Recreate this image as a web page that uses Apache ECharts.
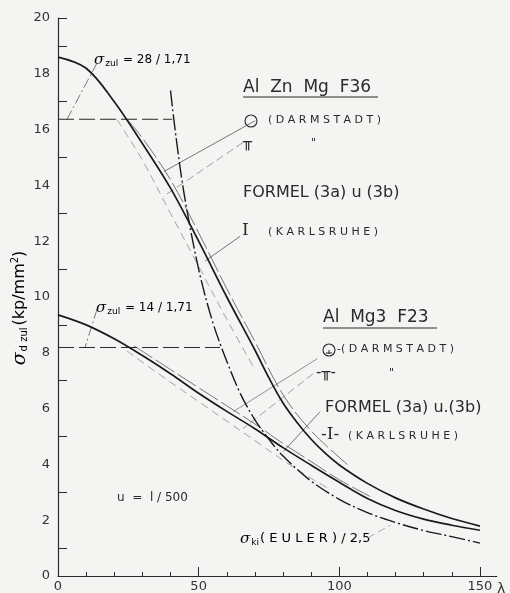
<!DOCTYPE html>
<html><head><meta charset="utf-8">
<script src="https://cdn.jsdelivr.net/npm/echarts@6/dist/echarts.min.js"></script>
<style>html,body{margin:0;padding:0;background:#f4f4f2}#c{width:510px;height:593px}</style>
</head><body><div id="c"></div>
<script>
// ---- data ----
const xTickLabels = [0, 50, 100, 150];
const xMinorTicks = [10, 20, 30, 40, 60, 70, 80, 90, 110, 120, 130, 140];
const yTickLabels = [0, 2, 4, 6, 8, 10, 12, 14, 16, 18, 20];
const yTicks = [1, 3, 5, 7, 9, 11, 13, 15, 17, 19, 20];

// Al Zn Mg F36
const znLambda = [0, 10, 20, 30, 40, 50, 60, 70, 75, 80, 85, 90, 95, 100, 110, 120, 130, 140, 150];
const znFormel = [18.6, 18.2, 17.0, 15.5, 13.9, 12.0, 10.0, 8.1, 7.1, 6.2, 5.5, 4.9, 4.4, 3.98, 3.32, 2.8, 2.4, 2.06, 1.79];
const znDarmCircleLambda = [24.6, 30, 40, 50, 60, 70, 80, 90, 104];
const znDarmCircle = [16.36, 15.7, 14.2, 12.3, 10.3, 8.4, 6.5, 5.2, 3.9];
const znDarmTLambda = [21, 30, 40, 50, 60, 70];
const znDarmT = [16.36, 14.9, 13.0, 11.1, 9.2, 7.4];
const znSigmaZul = 16.37;   // 28/1,71
const znZulEnd = 40.6;

// Al Mg3 F23
const mgLambda = [0, 10, 20, 30, 40, 50, 60, 70, 80, 90, 100, 110, 120, 130, 140, 150];
const mgFormel = [9.36, 9.0, 8.5, 7.9, 7.25, 6.55, 5.9, 5.28, 4.6, 3.97, 3.36, 2.78, 2.35, 2.04, 1.82, 1.64];
const mgDarmCircleLambda = [27, 40, 50, 60, 70, 80, 90, 100, 111];
const mgDarmCircle = [8.25, 7.4, 6.75, 6.1, 5.45, 4.75, 4.1, 3.45, 2.85];
const mgDarmTLambda = [24.5, 35, 50, 60, 70, 80, 90, 96];
const mgDarmT = [8.07, 7.3, 6.25, 5.55, 4.85, 4.15, 3.5, 3.15];
const mgSigmaZul = 8.19;    // 14/1,71
const mgZulEnd = 57.6;

// Euler / 2,5
const eulerLambda = [40, 42, 45, 50, 55, 60, 65, 70, 75, 80, 90, 100, 110, 120, 130, 140, 150];
const eulerSigma = [17.4, 15.7, 13.6, 11.0, 9.1, 7.7, 6.5, 5.6, 4.9, 4.3, 3.4, 2.75, 2.27, 1.92, 1.63, 1.41, 1.18];

// leader lines (data coordinates)
const leaderZul28 = [[13.9, 18.39], [3.2, 16.37]];
const leaderZul14 = [[13.9, 9.57], [9.6, 8.19]];
const leaderZnCircle = [[70.1, 16.32], [37.7, 14.5]];
const leaderZnT = [[65.8, 15.54], [37.4, 13.6]];
const leaderZnI = [[64.8, 12.18], [52.3, 11.29]];
const leaderMgCircle = [[92.2, 7.79], [62.3, 5.89]];
const leaderMgT = [[90.7, 7.25], [65.8, 5.29]];
const leaderMgI = [[93.2, 5.89], [80.1, 4.46]];
const leaderEuler = [[110, 1.36], [118.1, 1.82]];

const zip = (a, b) => a.map((v, i) => [v, b[i]]);
const INK = '#2a2a2a';
const FONT = 'DejaVu Sans';

const chart = echarts.init(document.getElementById('c'), null, {renderer: 'canvas'});

function curve(data, color, width, type, z) {
  return {type: 'line', data, smooth: 0.35, symbol: 'none', silent: true, z: z || 2,
    lineStyle: {color, width, type}};
}
function leader(data, type, color) {
  return {type: 'line', data, symbol: 'none', silent: true, z: 1,
    lineStyle: {color: color || '#555', width: 0.8, type: type || 'solid'}};
}

const subRich = {
  s: {fontFamily: 'DejaVu Serif', fontStyle: 'italic', fontSize: 15, color: INK},
  sub: {fontFamily: FONT, fontSize: 9, color: INK, padding: [7, 1, 0, 1]},
  t: {fontFamily: FONT, fontSize: 12, color: INK}
};

const option = {
  backgroundColor: '#f4f4f2',
  animation: false,
  grid: {left: 58, right: 13.2, top: 18, bottom: 15, containLabel: false},
  xAxis: [{
    type: 'value', min: 0, max: 156,
    axisLine: {lineStyle: {color: INK, width: 1.2}},
    axisTick: {inside: true, length: 9, customValues: [50, 100, 150], lineStyle: {color: INK}},
    axisLabel: {customValues: xTickLabels, margin: 4, fontFamily: FONT, fontSize: 13, color: '#333'},
    splitLine: {show: false}
  }, {
    type: 'value', min: 0, max: 156, position: 'bottom',
    axisLine: {show: false},
    axisTick: {inside: true, length: 4, customValues: xMinorTicks, lineStyle: {color: INK}},
    axisLabel: {show: false},
    splitLine: {show: false}
  }],
  yAxis: {
    type: 'value', min: 0, max: 20,
    axisLine: {lineStyle: {color: INK, width: 1.2}},
    axisTick: {inside: true, length: 9, customValues: yTicks, lineStyle: {color: INK}},
    axisLabel: {customValues: yTickLabels, margin: 8, fontFamily: FONT, fontSize: 13, color: '#333'},
    splitLine: {show: false}
  },
  series: [
    curve(zip(znLambda, znFormel), '#1a1a1a', 1.7, 'solid', 5),
    curve(zip(znDarmCircleLambda, znDarmCircle), '#666', 0.9, [22, 4], 3),
    curve(zip(znDarmTLambda, znDarmT), '#999', 0.9, [8, 5], 3),
    curve(zip(mgLambda, mgFormel), '#1a1a1a', 1.7, 'solid', 5),
    curve(zip(mgDarmCircleLambda, mgDarmCircle), '#666', 0.9, [22, 4], 3),
    curve(zip(mgDarmTLambda, mgDarmT), '#999', 0.9, [8, 5], 3),
    curve(zip(eulerLambda, eulerSigma), '#1a1a1a', 1.4, [16, 3, 2, 3], 4),
    {type: 'line', data: [[0, znSigmaZul], [znZulEnd, znSigmaZul]], symbol: 'none', silent: true,
      lineStyle: {color: INK, width: 1, type: [16, 5]}},
    {type: 'line', data: [[0, mgSigmaZul], [mgZulEnd, mgSigmaZul]], symbol: 'none', silent: true,
      lineStyle: {color: INK, width: 1, type: [16, 5]}},
    leader(leaderZul28, [10, 3, 2, 3], '#555'),
    leader(leaderZul14, [10, 3, 2, 3], '#555'),
    leader(leaderZnCircle, 'solid'),
    leader(leaderZnT, [8, 4], '#888'),
    leader(leaderZnI, 'solid'),
    leader(leaderMgCircle, 'solid', '#777'),
    leader(leaderMgT, [8, 4], '#888'),
    leader(leaderMgI, 'solid'),
    leader(leaderEuler, [8, 4], '#999')
  ],
  graphic: [
    // y axis title
    {type: 'text', x: 20, y: 308, rotation: Math.PI / 2, silent: true,
      style: {text: '{s|σ}{sub|d zul}{t|(kp/mm}{sup|2}{t|)}', align: 'center', verticalAlign: 'middle',
        rich: {
          s: {fontFamily: 'DejaVu Serif', fontStyle: 'italic', fontSize: 19, color: INK},
          sub: {fontFamily: FONT, fontSize: 10, color: INK, padding: [9, 2, 0, 1]},
          t: {fontFamily: FONT, fontSize: 16, color: INK},
          sup: {fontFamily: FONT, fontSize: 10, color: INK, padding: [0, 0, 9, 0]}
        }}},
    // λ
    {type: 'text', x: 497, y: 582, silent: true,
      style: {text: 'λ', fontFamily: FONT, fontSize: 14, fill: '#333'}},
    // sigma zul labels
    {type: 'text', x: 94, y: 52, silent: true,
      style: {text: '{s|σ}{sub|zul}{t| = 28 / 1,71}', rich: subRich}},
    {type: 'text', x: 96, y: 300, silent: true,
      style: {text: '{s|σ}{sub|zul}{t| = 14 / 1,71}', rich: subRich}},
    // Al Zn Mg F36 block
    {type: 'text', x: 243, y: 79, silent: true,
      style: {text: 'Al  Zn  Mg  F36', fontFamily: FONT, fontSize: 17, fill: INK}},
    {type: 'line', silent: true, shape: {x1: 243, y1: 97, x2: 378, y2: 97}, style: {stroke: INK, lineWidth: 1}},
    {type: 'circle', silent: true, shape: {cx: 251, cy: 121, r: 6}, style: {fill: 'none', stroke: INK, lineWidth: 1.1}},
    {type: 'text', x: 268, y: 115, silent: true,
      style: {text: '( D A R M S T A D T )', fontFamily: FONT, fontSize: 11, fill: INK}},
    {type: 'text', x: 243, y: 136, silent: true,
      style: {text: '╥', fontFamily: FONT, fontSize: 15, fill: INK}},
    {type: 'text', x: 311, y: 138, silent: true,
      style: {text: '"', fontFamily: FONT, fontSize: 11, fill: INK}},
    {type: 'text', x: 243, y: 185, silent: true,
      style: {text: 'FORMEL (3a) u (3b)', fontFamily: FONT, fontSize: 16, fill: INK}},
    {type: 'text', x: 242, y: 222, silent: true,
      style: {text: 'I', fontFamily: 'DejaVu Serif', fontSize: 17, fill: INK}},
    {type: 'text', x: 268, y: 227, silent: true,
      style: {text: '( K A R L S R U H E )', fontFamily: FONT, fontSize: 11, fill: INK}},
    // Al Mg3 F23 block
    {type: 'text', x: 323, y: 309, silent: true,
      style: {text: 'Al  Mg3  F23', fontFamily: FONT, fontSize: 17, fill: INK}},
    {type: 'line', silent: true, shape: {x1: 323, y1: 328, x2: 437, y2: 328}, style: {stroke: INK, lineWidth: 1}},
    {type: 'circle', silent: true, shape: {cx: 329, cy: 350, r: 6}, style: {fill: 'none', stroke: INK, lineWidth: 1.1}},
    {type: 'line', silent: true, shape: {x1: 329, y1: 350, x2: 329, y2: 354}, style: {stroke: INK, lineWidth: 1}},
    {type: 'line', silent: true, shape: {x1: 326, y1: 353, x2: 332, y2: 353}, style: {stroke: INK, lineWidth: 1}},
    {type: 'text', x: 337, y: 344, silent: true,
      style: {text: '-( D A R M S T A D T )', fontFamily: FONT, fontSize: 11, fill: INK}},
    {type: 'text', x: 316, y: 366, silent: true,
      style: {text: '-╥-', fontFamily: FONT, fontSize: 15, fill: INK}},
    {type: 'text', x: 389, y: 368, silent: true,
      style: {text: '"', fontFamily: FONT, fontSize: 11, fill: INK}},
    {type: 'text', x: 325, y: 400, silent: true,
      style: {text: 'FORMEL (3a) u.(3b)', fontFamily: FONT, fontSize: 16, fill: INK}},
    {type: 'text', x: 321, y: 426, silent: true,
      style: {text: '-I-', fontFamily: 'DejaVu Serif', fontSize: 17, fill: INK}},
    {type: 'text', x: 348, y: 431, silent: true,
      style: {text: '( K A R L S R U H E )', fontFamily: FONT, fontSize: 11, fill: INK}},
    // u = l/500
    {type: 'text', x: 117, y: 492, silent: true,
      style: {text: 'u  =  l / 500', fontFamily: FONT, fontSize: 12, fill: INK}},
    // Euler label
    {type: 'text', x: 240, y: 531, silent: true,
      style: {text: '{s|σ}{sub|ki}{t|( E U L E R ) / 2,5}', rich: {
        s: {fontFamily: 'DejaVu Serif', fontStyle: 'italic', fontSize: 15, color: INK},
        sub: {fontFamily: FONT, fontSize: 9, color: INK, padding: [7, 1, 0, 1]},
        t: {fontFamily: FONT, fontSize: 13, color: INK}
      }}}
  ]
};
chart.setOption(option);
</script>
</body></html>
